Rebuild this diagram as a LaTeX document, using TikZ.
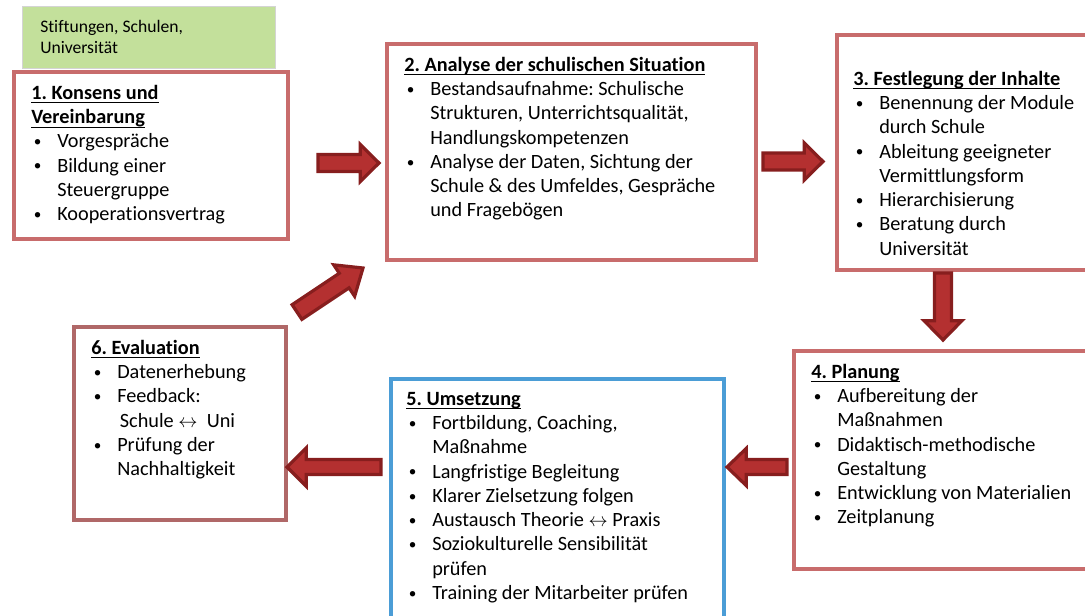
\documentclass[tikz,border=0pt]{standalone}
\usepackage{fontspec}
\setmainfont[Ligatures=NoCommon]{Carlito}
\usetikzlibrary{calc,positioning}
\frenchspacing

\definecolor{boxred}{RGB}{200,108,108}
\definecolor{boxbrown}{RGB}{176,104,104}
\definecolor{boxblue}{RGB}{75,157,214}
\definecolor{greenfill}{RGB}{195,224,155}
\definecolor{greenline}{RGB}{212,212,212}
\definecolor{arrfill}{RGB}{180,48,48}
\definecolor{arrline}{RGB}{135,30,30}

\newsavebox{\hdbox}
\newcommand{\bul}{\makebox[19.5pt][l]{\hspace{2pt}\raisebox{1pt}{\scalebox{0.75}{\textbullet}}}}
\newcommand{\ind}{\hspace*{19.5pt}}
\newcommand{\hd}[1]{\sbox{\hdbox}{\textbf{#1}}\rlap{\rule[-3pt]{\wd\hdbox}{0.8pt}}\usebox{\hdbox}}
\newcommand{\fst}{\rule{0pt}{13pt}}
% block arrow: tail, tip, shaft half width, head half width, head length
\newcommand{\blockarr}[5]{%
  \path ($(#2)!#5!(#1)$) coordinate (hb);
  \draw[fatarrow] ($(#1)!#3!90:(#2)$) -- ($(hb)!#3!90:(#2)$) -- ($(hb)!#4!90:(#2)$) -- (#2)
    -- ($(hb)!#4!-90:(#2)$) -- ($(hb)!#3!-90:(#2)$) -- ($(#1)!#3!-90:(#2)$) -- cycle;}

\begin{document}
\begin{tikzpicture}[x=0.75pt,y=0.75pt,yscale=-1,xscale=1,
  box/.style={draw=boxred, line width=3pt, fill=white, inner sep=0pt, anchor=north west},
  txt/.style={anchor=north west, inner sep=0pt, align=left, font=\fontsize{15.2}{18.2}\selectfont},
  fatarrow/.style={draw=arrline, fill=arrfill, line width=2.4pt, line join=miter}]
\useasboundingbox (0,0) rectangle (1085,615);

%Shape: Rectangle [green]
\node[box, draw=greenline, line width=1pt, fill=greenfill, minimum width=189.75pt, minimum height=46.5pt] (grp) at (22,6) {};
%Shape: Rectangle [1]
\node[box, minimum width=205.5pt, minimum height=125.25pt] (k1) at (12,70) {};
%Shape: Rectangle [2]
\node[box, minimum width=277.1pt, minimum height=162pt] (k2) at (384.5,42) {};
%Shape: Rectangle [3]
\node[box, minimum width=198.75pt, minimum height=176.25pt] (k3) at (835,33) {};
%Shape: Rectangle [4]
\node[box, minimum width=231pt, minimum height=163.5pt] (k4) at (792,349) {};
%Shape: Rectangle [5]
\node[box, draw=boxblue, minimum width=249.4pt, minimum height=190pt] (k5) at (389,377) {};
%Shape: Rectangle [6]
\node[box, draw=boxbrown, minimum width=159pt, minimum height=144.75pt] (k6) at (72,325) {};

% Text Node
\node[txt, font=\fontsize{13.2}{15.75}\selectfont] (tg) at (40,17.3) {\rule{0pt}{11pt}Stiftungen, Schulen,\\Universität};
% Text Node
\node[txt] (t1) at (31,81.7) {\fst\hd{1. Konsens und}\\\hd{Vereinbarung}\\\bul Vorgespräche\\\bul Bildung einer\\\ind Steuergruppe\\\bul Kooperationsvertrag};
% Text Node
\node[txt] (t2) at (404,53.7) {\fst\hd{2. Analyse der schulischen Situation}\\\bul Bestandsaufnahme: Schulische\\\ind Strukturen, Unterrichtsqualität,\\\ind Handlungskompetenzen\\\bul Analyse der Daten, Sichtung der\\\ind Schule \& des Umfeldes, Gespräche\\\ind und Fragebögen};
% Text Node
\node[txt] (t3) at (853,67.7) {\fst\hd{3. Festlegung der Inhalte}\\\bul Benennung der Module\\\ind durch Schule\\\bul Ableitung geeigneter\\\ind Vermittlungsform\\\bul Hierarchisierung\\\bul Beratung durch\\\ind Universität};
% Text Node
\node[txt] (t4) at (811,360.7) {\fst\hd{4. Planung}\\\bul Aufbereitung der\\\ind Maßnahmen\\\bul Didaktisch-methodische\\\ind Gestaltung\\\bul Entwicklung von Materialien\\\bul Zeitplanung};
% Text Node
\node[txt] (t5) at (406,387.7) {\fst\hd{5. Umsetzung}\\\bul Fortbildung, Coaching,\\\ind Maßnahme\\\bul Langfristige Begleitung\\\bul Klarer Zielsetzung folgen\\\bul Austausch Theorie $\leftrightarrow$ Praxis\\\bul Soziokulturelle Sensibilität\\\ind prüfen\\\bul Training der Mitarbeiter prüfen};
% Text Node
\node[txt] (t6) at (91,336.7) {\fst\hd{6. Evaluation}\\\bul Datenerhebung\\\bul Feedback:\\\ind\hspace{2pt}Schule $\leftrightarrow$\ \ Uni\\\bul Prüfung der\\\ind Nachhaltigkeit};

%Right Arrow ends
\coordinate (a12s) at (318,163);   \coordinate (a12e) at (379,163);
\coordinate (a23s) at (763,161.5); \coordinate (a23e) at (823,161.5);
\coordinate (a34s) at (943,273);   \coordinate (a34e) at (943,340);
\coordinate (a45s) at (787,467);   \coordinate (a45e) at (727,467);
\coordinate (a56s) at (381,467);   \coordinate (a56e) at (287,467);
\coordinate (a62s) at (297,312);   \coordinate (a62e) at (363,268);

%Right Arrow
\blockarr{a12s}{a12e}{6.4pt}{13.9pt}{14pt}
\blockarr{a23s}{a23e}{6.4pt}{13.9pt}{14pt}
%Down Arrow
\blockarr{a34s}{a34e}{6.4pt}{14.2pt}{14.5pt}
%Left Arrow
\blockarr{a45s}{a45e}{5.6pt}{14pt}{14.5pt}
\blockarr{a56s}{a56e}{5.6pt}{14.5pt}{14.5pt}
%Diagonal Arrow
\blockarr{a62s}{a62e}{6.6pt}{14.2pt}{17pt}

\end{tikzpicture}
\end{document}
